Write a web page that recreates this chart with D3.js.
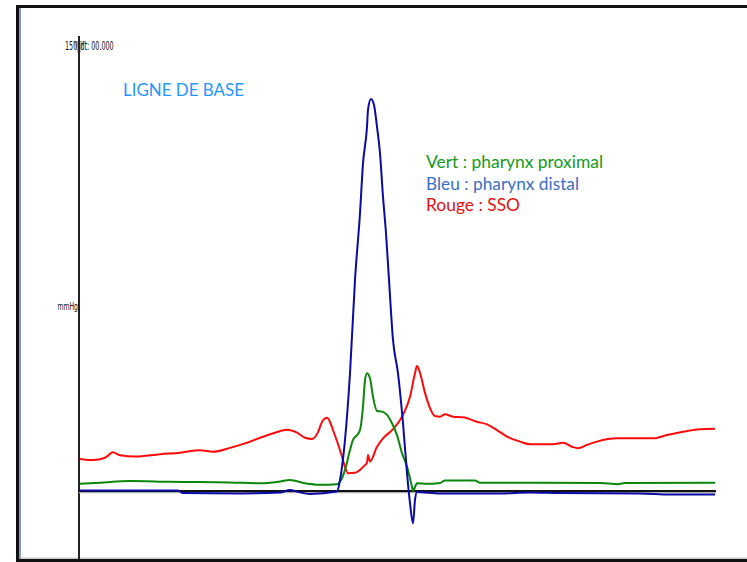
<!DOCTYPE html>
<html>
<head>
<meta charset="utf-8">
<script src="https://cdn.jsdelivr.net/npm/d3@7/dist/d3.min.js"></script>
<style>
  html, body { margin: 0; padding: 0; background: #fff; }
  svg { display: block; }
</style>
</head>
<body>
<svg id="chart" width="747" height="562"></svg>
<script>
// Pressure traces (time in s, pressure in mmHg)
const redTime = [0.01,0.14,0.26,0.34,0.41,0.56,0.81,1.01,1.21,1.34,1.51,1.66,1.81,1.96,2.08,2.18,2.26,2.33,2.39,2.43,2.48,2.51,2.54,2.59,2.63,2.66,2.69,2.76,2.81,2.85,2.88,2.89,2.91,2.98,3.04,3.14,3.24,3.31,3.36,3.38,3.41,3.46,3.51,3.56,3.61,3.66,3.74,3.84,3.98,4.08,4.18,4.28,4.41,4.51,4.74,4.84,4.93,4.99,5.08,5.18,5.38,5.74,5.88,6.04,6.21,6.36];
const redValues = [10.8,10.4,11.2,13.0,12.0,11.6,12.4,12.9,13.7,13.2,14.5,16.0,17.9,19.6,20.6,19.6,17.9,17.5,19.8,23.2,24.6,23.2,20.5,15.8,11.5,8.1,6.0,6.1,7.1,8.4,9.5,12.1,9.9,14.9,17.7,20.8,25.6,31.7,39.6,42.0,39.7,33.0,27.9,25.2,25.0,25.8,25.0,24.8,23.3,22.4,20.5,18.3,16.6,15.7,15.7,16.2,14.9,14.4,15.5,16.6,17.7,17.7,18.8,19.9,20.8,20.9];

const greenTime = [0.01,0.21,0.51,0.91,1.51,1.81,2.01,2.11,2.26,2.41,2.58,2.61,2.66,2.71,2.74,2.78,2.81,2.84,2.86,2.88,2.91,2.94,2.98,3.03,3.08,3.13,3.18,3.23,3.28,3.33,3.34,3.38,3.48,3.61,3.66,3.96,4.01,5.21,5.39,5.46,6.36];
const greenValues = [2.4,2.8,3.4,3.1,2.9,2.6,3.2,3.7,2.6,2.1,2.3,3.1,7.1,13.8,17.2,18.8,20.5,28.4,37.3,39.6,37.9,31.7,26.9,26.7,25.6,22.8,18.8,12.7,8.2,1.4,0.0,2.6,2.4,2.7,3.5,3.5,2.8,2.7,2.3,2.7,2.8];

const blueTime = [0.01,0.99,1.04,1.61,2.01,2.11,2.19,2.31,2.58,2.61,2.66,2.71,2.76,2.81,2.84,2.88,2.89,2.92,2.95,2.98,3.01,3.04,3.07,3.10,3.14,3.19,3.24,3.28,3.31,3.34,3.36,3.38,3.61,4.21,4.51,4.81,5.61,5.91,6.36];
const blueValues = [0.2,0.2,-0.7,-0.8,-0.5,0.3,-0.3,-1.0,-0.2,3.7,17.2,39.6,71.0,93.4,110.2,122.5,128.2,131.8,129.8,122.5,113.6,99.0,86.7,71.0,50.8,39.6,22.8,6.0,-4.1,-10.9,-3.0,-0.3,-0.8,-0.8,-0.5,-0.7,-0.8,-1.2,-1.2];

const yTopLabel = "150";
const headerLabel = "dt: 00.000";
const unitLabel = "mmHg";
const titleText = "LIGNE DE BASE";
const legendLabels = ["Vert : pharynx proximal", "Bleu : pharynx distal", "Rouge : SSO"];

const svg = d3.select("#chart");

const x = d3.scaleLinear().domain([0, 6.37]).range([79, 716]);
const y = d3.scaleLinear().domain([0, 150]).range([491, 45]);

// Window frame
svg.append("rect").attr("x", 16).attr("y", 5).attr("width", 731).attr("height", 3).attr("fill", "#111");
svg.append("rect").attr("x", 16).attr("y", 5).attr("width", 3).attr("height", 557).attr("fill", "#111");
svg.append("rect").attr("x", 19).attr("y", 8).attr("width", 2).attr("height", 551).attr("fill", "#8a98c8");
svg.append("rect").attr("x", 16).attr("y", 559).attr("width", 731).attr("height", 3).attr("fill", "#111");
svg.append("rect").attr("x", 21).attr("y", 557.5).attr("width", 726).attr("height", 1.5).attr("fill", "#c8c8c8");

// Pressure axis with marker
const yAxis = d3.axisLeft(y).tickValues([]).tickSize(0);
svg.append("g").attr("transform", "translate(79,0)").call(yAxis)
  .call(g => g.select(".domain").remove());
svg.append("path")
  .attr("d", "M73,41 L85,41 L79,56 Z")
  .attr("fill", "#b4b4b4");
svg.append("line").attr("x1", 79).attr("x2", 79).attr("y1", 36).attr("y2", 559)
  .attr("stroke", "#222").attr("stroke-width", 2);

// Condensed small labels: top of scale, cursor readout, unit
const smallFont = "'DejaVu Sans Condensed', 'DejaVu Sans', sans-serif";
const squeeze = 0.62;
svg.append("g").attr("transform", `translate(65,49.5) scale(${squeeze},1)`)
  .append("text").attr("x", 0).attr("y", 0)
  .attr("font-family", smallFont).attr("font-size", 11.5).attr("fill", "#111")
  .text(yTopLabel);
svg.append("g").attr("transform", `translate(80.5,49.5) scale(${squeeze},1)`)
  .append("text").attr("x", 0).attr("y", 0)
  .attr("font-family", smallFont).attr("font-size", 11.5).attr("fill", "#111")
  .text(headerLabel);
svg.append("g").attr("transform", `translate(78,309.5) scale(${squeeze},1)`)
  .append("text").attr("x", 0).attr("y", 0).attr("text-anchor", "end")
  .attr("font-family", smallFont).attr("font-size", 11).attr("fill", "#111")
  .text(unitLabel);

// Zero line
svg.append("line").attr("x1", x(0)).attr("x2", x(6.37)).attr("y1", y(0) + 1.5).attr("y2", y(0) + 1.5)
  .attr("stroke", "#b0b0b0").attr("stroke-width", 1.5);
svg.append("line").attr("x1", x(0)).attr("x2", x(6.37)).attr("y1", y(0)).attr("y2", y(0))
  .attr("stroke", "#111").attr("stroke-width", 2);

// Traces
const line = d3.line().x(d => x(d[0])).y(d => y(d[1])).curve(d3.curveMonotoneX);
const series = [
  { t: redTime, v: redValues, color: "#ff0a0a" },
  { t: greenTime, v: greenValues, color: "#0b870b" },
  { t: blueTime, v: blueValues, color: "#0a0aa6" }
];
series.forEach(s => {
  svg.append("path")
    .datum(d3.zip(s.t, s.v))
    .attr("d", line)
    .attr("fill", "none")
    .attr("stroke", s.color)
    .attr("stroke-width", 2)
    .attr("stroke-linejoin", "round");
});

// Title and legend
const labelFont = "Lato, 'Open Sans', sans-serif";
svg.append("text").attr("x", 123).attr("y", 96)
  .attr("font-family", labelFont).attr("font-size", 17.5).attr("fill", "#1f97ff")
  .attr("textLength", 121).attr("lengthAdjust", "spacingAndGlyphs")
  .text(titleText);

const legendColors = ["#169a1b", "#3b6fc4", "#e3100f"];
const legendWidths = [177, 153, 94];
legendLabels.forEach((label, i) => {
  svg.append("text").attr("x", 426).attr("y", 168 + i * 21.5)
    .attr("font-family", labelFont).attr("font-size", 17.5).attr("fill", legendColors[i])
    .attr("textLength", legendWidths[i]).attr("lengthAdjust", "spacingAndGlyphs")
    .text(label);
});
</script>
</body>
</html>
